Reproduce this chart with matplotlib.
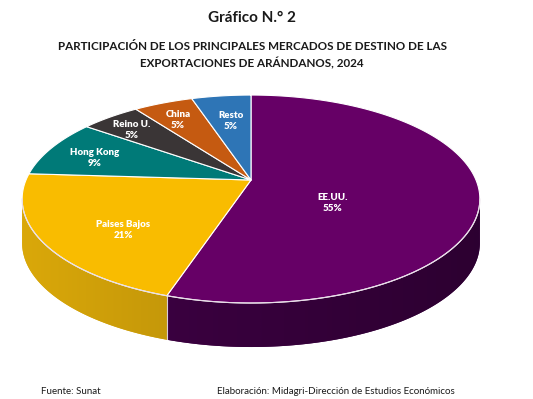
import matplotlib
matplotlib.use("Agg")
import matplotlib.pyplot as plt
from matplotlib.patches import Polygon
import numpy as np

plt.rcParams['font.family'] = ['Lato', 'DejaVu Sans']

# data
mercados = ["EE.UU.", "Paises Bajos", "Hong Kong", "Reino U.", "China", "Resto"]
participacion = [55, 21, 9, 5, 5, 5]

# styles
top_colors = ["#660066", "#F9BC00", "#007A78", "#3A3536", "#C55A11", "#2E75B6"]
side_colors = ["#400046", "#DAA80A", "#005856", "#282424", "#8E400C", "#215383"]
label_pos = [(333, 203), (123, 230), (95, 158), (132, 130), (178, 120), (231, 121)]

# pie geometry in pixels (perspective view)
cx, cy = 251, 180
R, C, k = 225, 100.5, 0.183
depth = 44


def proj(theta, r=1.0, dz=0.0):
    t = np.radians(theta)
    x = r * np.cos(t)
    y = r * np.sin(t)
    w = 1 + k * y
    return cx + R * x / w, cy - C * y / w + dz


fig = plt.figure(figsize=(5.33, 3.99), dpi=100)
ax = fig.add_axes([0, 0, 1, 1])
ax.set_xlim(0, 533)
ax.set_ylim(399, 0)
ax.axis("off")

# slice angles, start at 12 o'clock going clockwise
total = sum(participacion)
bounds = [90.0]
for v in participacion:
    bounds.append(bounds[-1] - 360.0 * v / total)

# visible side: between silhouette tangents
t_left = 180 + np.degrees(np.arcsin(k))
t_right = 360 - np.degrees(np.arcsin(k))
xl, _ = proj(t_left)
xr, _ = proj(t_right)

for i in range(len(participacion)):
    a_hi = bounds[i] % 360 if bounds[i] % 360 != 0 else 360
    a_lo = bounds[i + 1] % 360
    if a_lo > a_hi:
        ranges = [(a_lo, 360), (0, a_hi)]
    else:
        ranges = [(a_lo, a_hi)]
    for lo, hi in ranges:
        lo2, hi2 = max(lo, t_left), min(hi, t_right)
        if lo2 >= hi2:
            continue
        th = np.linspace(lo2, hi2, 200)
        xs, ys = proj(th)
        pts = list(zip(xs, ys)) + list(zip(xs[::-1], ys[::-1] + depth))
        side = Polygon(pts, closed=True, facecolor=side_colors[i], edgecolor="none")
        ax.add_patch(side)
        # horizontal shading across the side wall
        base = np.array(matplotlib.colors.to_rgb(side_colors[i]))
        f = np.linspace(1.0, 0.7, 256)
        grad = np.clip(base[None, None, :] * f[None, :, None], 0, 1)
        im = ax.imshow(grad, extent=(xl, xr, 360, 150), aspect="auto",
                       interpolation="bilinear", zorder=1.5)
        im.set_clip_path(side)

# white line on the side at the slice joins that face front
for b in bounds:
    a = b % 360
    if t_left < a < t_right:
        x0, y0 = proj(a)
        ax.plot([x0, x0], [y0, y0 + depth], color="white", linewidth=0.8,
                alpha=0.8, zorder=1.8)

# top faces
for i in range(len(participacion)):
    th = np.linspace(bounds[i], bounds[i + 1], 200)
    xs, ys = proj(th)
    pts = [(cx, cy)] + list(zip(xs, ys))
    ax.add_patch(Polygon(pts, closed=True, facecolor=top_colors[i],
                         edgecolor="white", linewidth=0.8, joinstyle="round",
                         zorder=2))

# light rim along the front edge of the top face
th = np.linspace(t_left, t_right, 300)
xs, ys = proj(th)
ax.plot(xs, ys, color="#E8DDE8", linewidth=0.8, zorder=2.5)

ax.set_xlim(0, 533)
ax.set_ylim(399, 0)

# data labels
for i, name in enumerate(mercados):
    x, y = label_pos[i]
    ax.text(x, y, f"{name}\n{participacion[i]}%", ha="center", va="center",
            color="white", fontsize=7, fontweight="heavy", linespacing=1.3,
            zorder=3)

# titles
ax.text(252, 18, "Gráfico N.° 2", ha="center", va="center", fontsize=11,
        fontweight="bold", color="#1a1a1a")
ax.text(252, 46, "PARTICIPACIÓN DE LOS PRINCIPALES MERCADOS DE DESTINO DE LAS",
        ha="center", va="center", fontsize=8.4, fontweight="bold", color="#1a1a1a")
ax.text(252, 63, "EXPORTACIONES DE ARÁNDANOS, 2024",
        ha="center", va="center", fontsize=8.4, fontweight="bold", color="#1a1a1a")

# footer
ax.text(41, 392, "Fuente: Sunat", ha="left", va="center", fontsize=7, color="#1a1a1a")
ax.text(217, 392, "Elaboración: Midagri-Dirección de Estudios Económicos",
        ha="left", va="center", fontsize=7, color="#1a1a1a")

fig.savefig("out.png", dpi=100)
